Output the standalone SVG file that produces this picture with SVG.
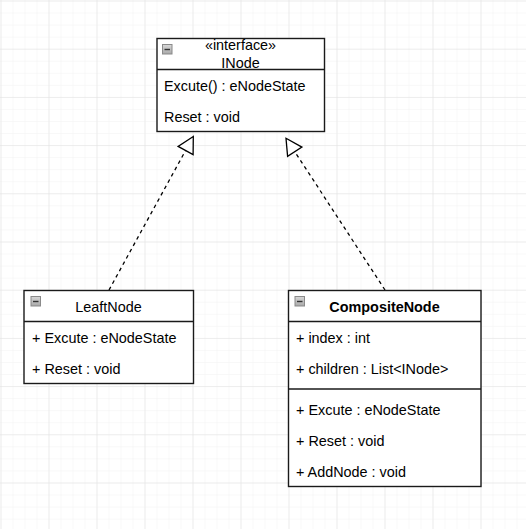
<svg xmlns="http://www.w3.org/2000/svg" width="526" height="529" viewBox="0 0 526 529">
  <defs>
    <pattern id="minor" x="0.5" y="0.5" width="12" height="12.05" patternUnits="userSpaceOnUse">
      <path d="M0 0H12M0 0V12.05" fill="none" stroke="#f2f2f2" stroke-width="1"/>
    </pattern>
    <pattern id="major" x="0.5" y="0.5" width="48" height="48.2" patternUnits="userSpaceOnUse">
      <path d="M0 0H48M0 0V48.2" fill="none" stroke="#e2e2e2" stroke-width="1"/>
    </pattern>
    <linearGradient id="icong" x1="0" y1="0" x2="0" y2="1">
      <stop offset="0" stop-color="#d8d8d8"/>
      <stop offset="1" stop-color="#a8a8a8"/>
    </linearGradient>
    <g id="icon">
      <rect x="0" y="0" width="9.5" height="9.5" fill="url(#icong)" stroke="#8a8a8a" stroke-width="1"/>
      <path d="M2 5H7.5" stroke="#333" stroke-width="1.4"/>
    </g>
  </defs>
  <style>
    .box { fill: #ffffff; stroke: #1a1a1a; stroke-width: 1.4; }
    .sep { stroke: #1a1a1a; stroke-width: 1.4; fill: none; }
    .t { font-family: "Liberation Sans", Arial, sans-serif; font-size: 14.4px; fill: #000; }
    .c { text-anchor: middle; }
    .b { font-weight: bold; }
    .edge { stroke: #000; stroke-width: 1.3; stroke-dasharray: 3.6 3.6; fill: none; }
    .head { fill: #fff; stroke: #000; stroke-width: 1.3; }
  </style>
  <rect x="0" y="0" width="526" height="529" fill="#ffffff"/>
  <rect x="0" y="0" width="526" height="529" fill="url(#minor)"/>
  <rect x="0" y="0" width="526" height="529" fill="url(#major)"/>

  <g id="connectors">
    <path class="edge" d="M109 290L185.6 150.5"/>
    <polygon class="head" points="193.3,136.5 178.1,146.4 193.1,154.6"/>
    <path class="edge" d="M385 290L294.8 151.7"/>
    <polygon class="head" points="286,138.3 301.9,147.1 287.6,156.4"/>
  </g>

  <g id="INode">
    <rect class="box" x="157" y="38.5" width="167.5" height="93"/>
    <path class="sep" d="M157 69.5H324.5"/>
    <use href="#icon" x="162.5" y="44.5"/>
    <text class="t c" x="240.5" y="49.5">«interface»</text>
    <text class="t c" x="240.5" y="67.5">INode</text>
    <text class="t" x="164" y="90.5">Excute() : eNodeState</text>
    <text class="t" x="164" y="121.5">Reset : void</text>
  </g>

  <g id="LeaftNode">
    <rect class="box" x="24" y="290.5" width="169.5" height="93"/>
    <path class="sep" d="M24 321.5H193.5"/>
    <use href="#icon" x="31" y="296.5"/>
    <text class="t c" x="108.5" y="311.5">LeaftNode</text>
    <text class="t" x="32" y="342.5">+ Excute : eNodeState</text>
    <text class="t" x="32" y="373.5">+ Reset : void</text>
  </g>

  <g id="CompositeNode">
    <rect class="box" x="288.5" y="290.5" width="192.5" height="196"/>
    <path class="sep" d="M288.5 321.5H481"/>
    <path class="sep" d="M288.5 389H481"/>
    <use href="#icon" x="295" y="296.5"/>
    <text class="t c b" x="384.5" y="311.5">CompositeNode</text>
    <text class="t" x="296" y="342.5">+ index : int</text>
    <text class="t" x="296" y="373.5">+ children : List&lt;INode&gt;</text>
    <text class="t" x="296" y="414.5">+ Excute : eNodeState</text>
    <text class="t" x="296" y="445.5">+ Reset : void</text>
    <text class="t" x="296" y="476.5">+ AddNode : void</text>
  </g>
</svg>
